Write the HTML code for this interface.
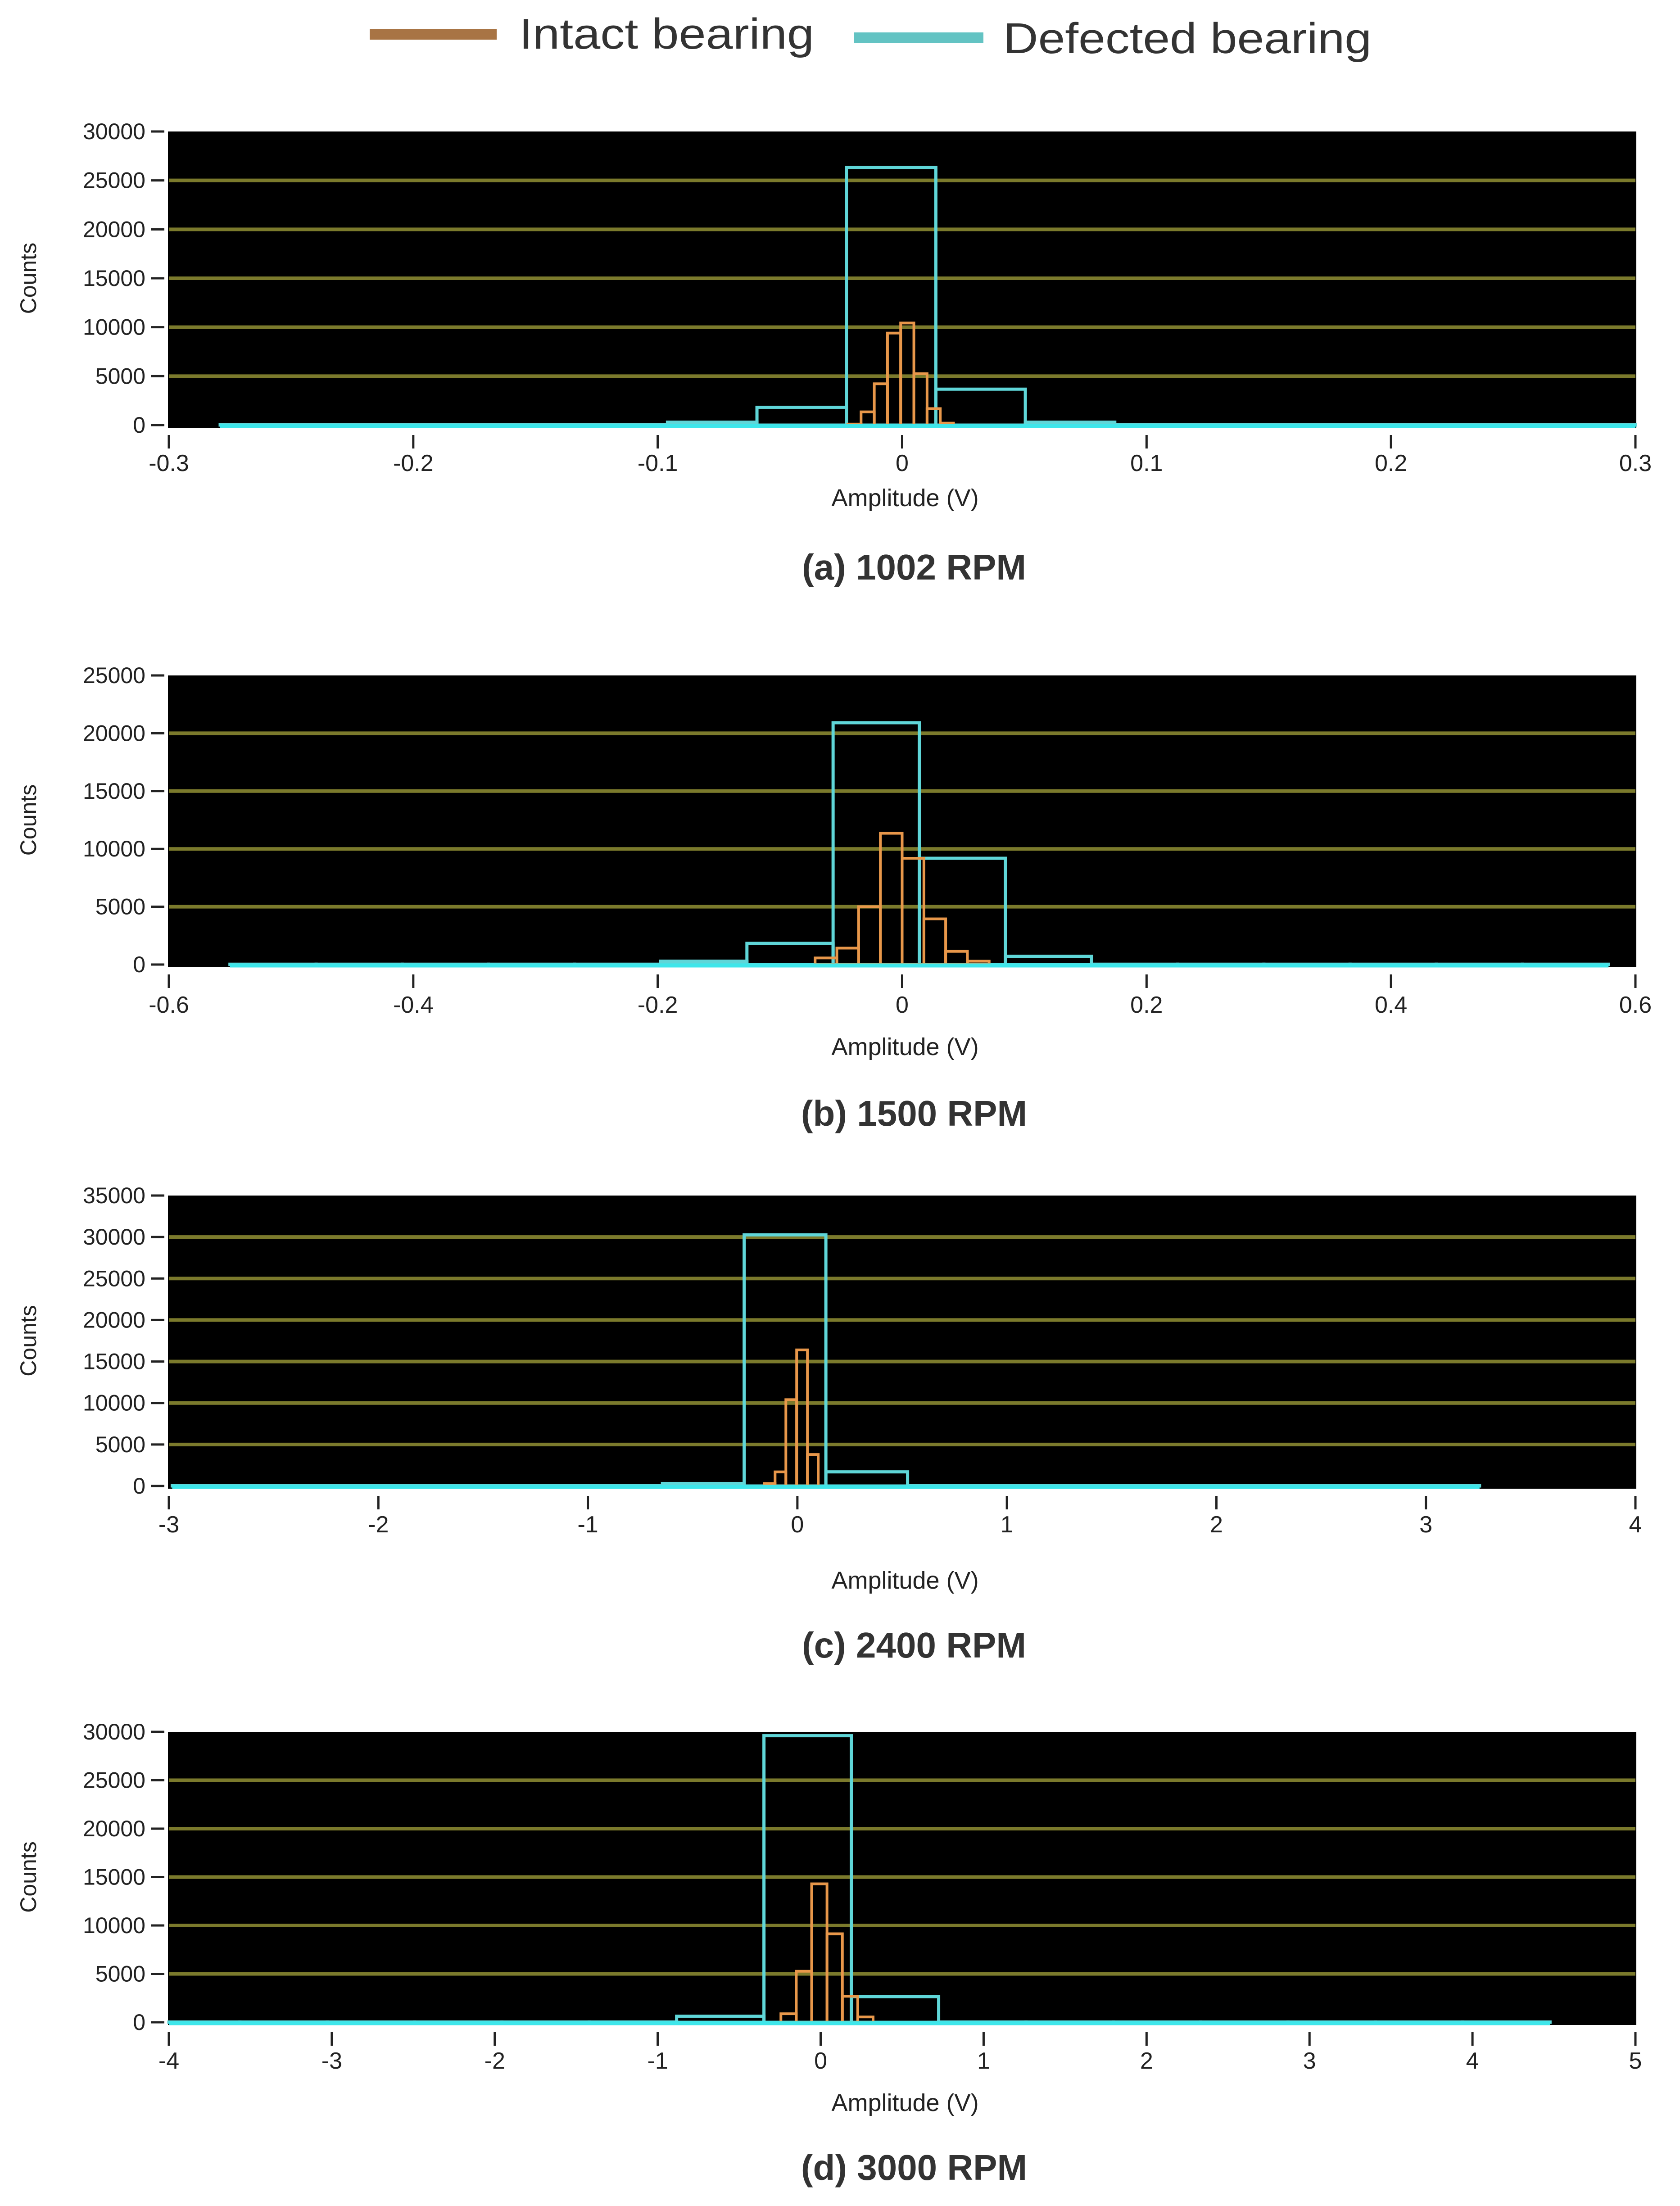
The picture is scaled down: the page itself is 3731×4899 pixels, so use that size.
<!DOCTYPE html>
<html><head><meta charset="utf-8"><title>Amplitude histograms</title>
<style>
html,body{margin:0;padding:0;background:#fff;}
svg{display:block;}
text{font-family:"Liberation Sans",Arial,sans-serif;}
</style></head>
<body>
<svg id="chart" width="3731" height="4899" viewBox="0 0 3731 4899" xmlns="http://www.w3.org/2000/svg">
  <rect x="0" y="0" width="3731" height="4899" fill="#ffffff"/>
  <g>
    <g>
      <rect x="821" y="64" width="282" height="24" fill="#a87444"/>
      <text x="1153" y="108" font-size="96" fill="#333" textLength="655" lengthAdjust="spacingAndGlyphs">Intact bearing</text>
    </g>
    <g>
      <rect x="1896" y="72" width="288" height="24" fill="#63c3c3"/>
      <text x="2228" y="118" font-size="96" fill="#333" textLength="818" lengthAdjust="spacingAndGlyphs">Defected bearing</text>
    </g>
  </g>
</svg>
<script>
// ---------- data ----------
// panel (a) 1002 RPM
const aXTicks = [-0.3,-0.2,-0.1,0,0.1,0.2,0.3];
const aYTicks = [0,5000,10000,15000,20000,25000,30000];
const aDefStart = -0.279, aDefWidth = 0.0366;
const aDefCounts = [30,30,30,30,30,300,1820,26330,3670,300,30,30,30,30,30,30];
const aIntStart = -0.0222, aIntWidth = 0.0054;
const aIntCounts = [100,1350,4220,9400,10430,5250,1680,200];
// panel (b) 1500 RPM
const bXTicks = [-0.6,-0.4,-0.2,0,0.2,0.4,0.6];
const bYTicks = [0,5000,10000,15000,20000,25000];
const bDefStart = -0.55, bDefWidth = 0.0705;
const bDefCounts = [30,30,30,30,30,290,1830,20910,9190,710,30,30,30,30,30,30];
const bIntStart = -0.0712, bIntWidth = 0.0178;
const bIntCounts = [570,1420,5000,11350,9190,3950,1140,290];
// panel (c) 2400 RPM
const cXTicks = [-3,-2,-1,0,1,2,3,4];
const cYTicks = [0,5000,10000,15000,20000,25000,30000,35000];
const cDefStart = -2.984, cDefWidth = 0.39;
const cDefCounts = [30,30,30,30,30,30,300,30260,1700,30,30,30,30,30,30,30];
const cIntStart = -0.158, cIntWidth = 0.0515;
const cIntCounts = [300,1700,10400,16400,3790];
// panel (d) 3000 RPM
const dXTicks = [-4,-3,-2,-1,0,1,2,3,4,5];
const dYTicks = [0,5000,10000,15000,20000,25000,30000];
const dDefStart = -4.1, dDefWidth = 0.536;
const dDefCounts = [30,30,30,30,30,30,630,29600,2650,30,30,30,30,30,30,30];
const dIntStart = -0.244, dIntWidth = 0.0943;
const dIntCounts = [880,5270,14300,9140,2690,550];

const panels = [
  {id:'a', cap:'(a) 1002 RPM', xt:aXTicks, yt:aYTicks, ds:aDefStart, dw:aDefWidth, dc:aDefCounts, is:aIntStart, iw:aIntWidth, ic:aIntCounts, top:292, zero:944, lab:84, amp:162, capy:319},
  {id:'b', cap:'(b) 1500 RPM', xt:bXTicks, yt:bYTicks, ds:bDefStart, dw:bDefWidth, dc:bDefCounts, is:bIntStart, iw:bIntWidth, ic:bIntCounts, top:1500, zero:2142, lab:89, amp:183, capy:334},
  {id:'c', cap:'(c) 2400 RPM', xt:cXTicks, yt:cYTicks, ds:cDefStart, dw:cDefWidth, dc:cDefCounts, is:cIntStart, iw:cIntWidth, ic:cIntCounts, top:2655, zero:3300, lab:85, amp:210, capy:357},
  {id:'d', cap:'(d) 3000 RPM', xt:dXTicks, yt:dYTicks, ds:dDefStart, dw:dDefWidth, dc:dDefCounts, is:dIntStart, iw:dIntWidth, ic:dIntCounts, top:3846, zero:4491, lab:85, amp:179, capy:326}
];

const NS = 'http://www.w3.org/2000/svg';
const svg = document.getElementById('chart');
const L = 375, R = 3632;
function mk(tag, attrs, parent){
  const e = document.createElementNS(NS, tag);
  for (const k in attrs) e.setAttribute(k, attrs[k]);
  parent.appendChild(e);
  return e;
}

panels.forEach(p => {
  const xmin = p.xt[0], xmax = p.xt[p.xt.length-1];
  const ymax = p.yt[p.yt.length-1];
  const xs = v => L + (v - xmin) / (xmax - xmin) * (R - L);
  const ys = v => p.zero - v / ymax * (p.zero - p.top);

  const g = mk('g', {}, svg);
  
  

  const bg = mk('rect', {x:L-2, y:p.top, width:R-L+4, height:p.zero-p.top+6, fill:'#000'}, g);
  
  

  p.yt.forEach(t => {
    const y = ys(t);
    if (t > 0 && t < ymax) {
      const gl = mk('line', {x1:L, x2:R, y1:y, y2:y, stroke:'#7b7a2c', 'stroke-width':8}, g);
      
      
    }
    mk('line', {x1:L-40, x2:L-10, y1:y, y2:y, stroke:'#222', 'stroke-width':5}, g);
    const tl = mk('text', {x:L-52, y:y+17, 'font-size':50, 'text-anchor':'end', fill:'#222'}, g);
    tl.textContent = String(t);
    
    
  });

  p.xt.forEach(t => {
    const x = xs(t);
    mk('line', {x1:x, x2:x, y1:p.zero+22, y2:p.zero+52, stroke:'#222', 'stroke-width':5}, g);
    const tl = mk('text', {x:x, y:p.zero+p.lab+18, 'font-size':52, 'text-anchor':'middle', fill:'#222'}, g);
    tl.textContent = String(t);
    
    
  });

  const defG = mk('g', {}, g);
  
  
  p.dc.forEach((c, i) => {
    const x0 = Math.max(xs(p.ds + i*p.dw), L), x1 = Math.min(xs(p.ds + (i+1)*p.dw), R);
    const y = ys(c);
    const r = mk('rect', {x:x0, y:y, width:Math.max(x1-x0,0), height:Math.max(ys(0)-y,0), fill:'none', stroke:'#5fd6d8', 'stroke-width':7}, defG);
    
    
  });
  const intG = mk('g', {}, g);
  
  
  p.ic.forEach((c, i) => {
    const x0 = xs(p.is + i*p.iw), x1 = xs(p.is + (i+1)*p.iw);
    const y = ys(c);
    const r = mk('rect', {x:x0, y:y, width:x1-x0, height:Math.max(ys(0)-y,0), fill:'none', stroke:'#e8974a', 'stroke-width':6}, intG);
    
    
  });
  const x0b = Math.max(xs(p.ds), L), x1b = Math.min(xs(p.ds + p.dc.length*p.dw), R);
  const bl = mk('line', {x1:x0b, x2:x1b, y1:ys(0)+2, y2:ys(0)+2, stroke:'#3ee6ea', 'stroke-width':9}, g);
  
  

  const ct = mk('text', {x:0, y:0, 'font-size':50, 'text-anchor':'middle', fill:'#222', transform:'translate(80,' + ((p.top+p.zero)/2) + ') rotate(-90)'}, g);
  ct.textContent = 'Counts';
  
  
  const at = mk('text', {x:2010, y:p.zero+p.amp+18, 'font-size':54, 'text-anchor':'middle', fill:'#222'}, g);
  at.textContent = 'Amplitude (V)';
  
  
  const cp = mk('text', {x:2030, y:p.zero+p.capy+24, 'font-size':80, 'font-weight':'bold', 'text-anchor':'middle', fill:'#333'}, g);
  cp.textContent = p.cap;
  
  
});
</script>
</body></html>
